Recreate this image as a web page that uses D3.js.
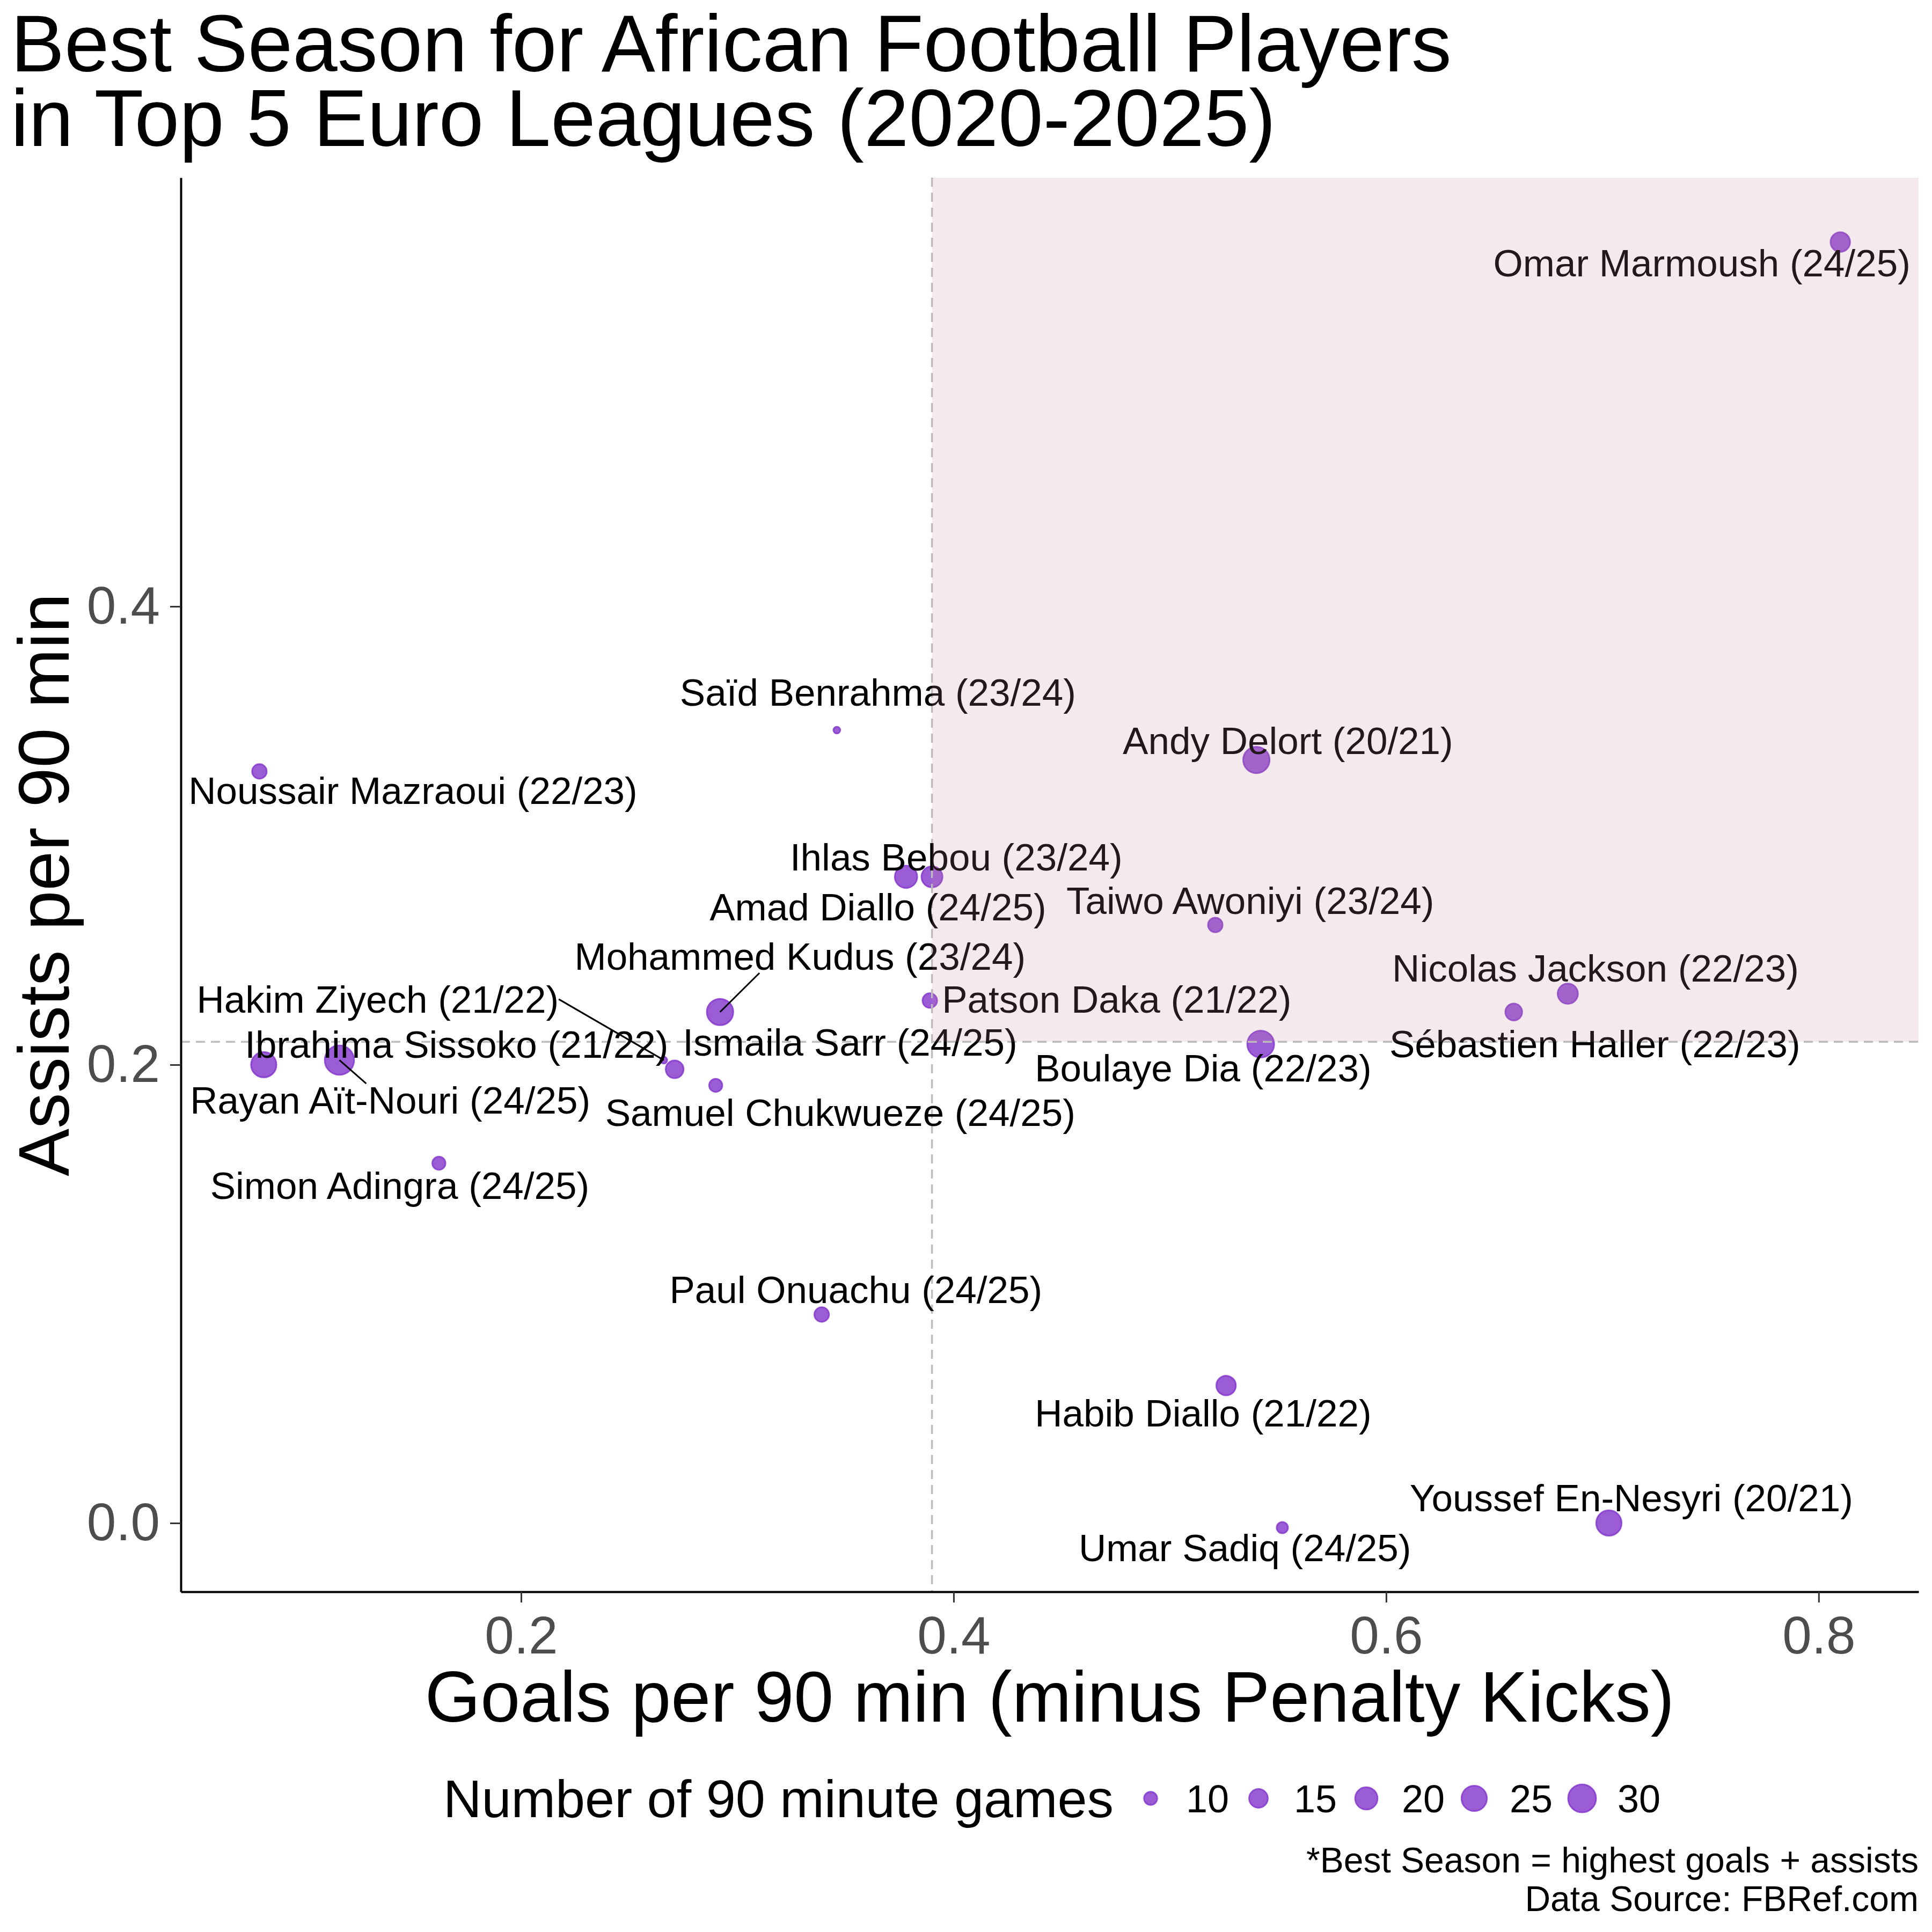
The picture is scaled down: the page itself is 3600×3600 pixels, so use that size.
<!DOCTYPE html>
<html lang="en">
<head>
<meta charset="UTF-8">
<title>Best Season for African Football Players</title>
<script src="https://d3js.org/d3.v7.min.js"></script>
<style>
  body { margin: 0; background: #ffffff; }
  svg text { font-family: 'Liberation Sans', Arial, sans-serif; }
</style>
</head>
<body>
<div id="chart"></div>
<script>
// player + season, in drawing order
const players = [
  "Omar Marmoush (24/25)", "Saïd Benrahma (23/24)", "Noussair Mazraoui (22/23)",
  "Andy Delort (20/21)", "Ihlas Bebou (23/24)", "Amad Diallo (24/25)",
  "Taiwo Awoniyi (23/24)", "Mohammed Kudus (23/24)", "Hakim Ziyech (21/22)",
  "Patson Daka (21/22)", "Nicolas Jackson (22/23)", "Ibrahima Sissoko (21/22)",
  "Ismaila Sarr (24/25)", "Sébastien Haller (22/23)", "Boulaye Dia (22/23)",
  "Rayan Aït-Nouri (24/25)", "Samuel Chukwueze (24/25)", "Simon Adingra (24/25)",
  "Paul Onuachu (24/25)", "Habib Diallo (21/22)", "Youssef En-Nesyri (20/21)",
  "Umar Sadiq (24/25)"
];
const goalsP90 = [0.810, 0.346, 0.079, 0.540, 0.390, 0.378, 0.521, 0.292, 0.266, 0.389, 0.684,
  0.081, 0.271, 0.659, 0.542, 0.116, 0.290, 0.162, 0.339, 0.526, 0.703, 0.552];
const assistsP90 = [0.559, 0.346, 0.328, 0.333, 0.282, 0.282, 0.261, 0.223, 0.202, 0.228, 0.231,
  0.200, 0.198, 0.223, 0.209, 0.202, 0.191, 0.157, 0.091, 0.060, 0.000, -0.002];
const games90 = [16, 8, 11, 27, 18, 20, 11, 27, 8, 11, 17, 25, 14, 13, 28, 33, 10, 10, 11, 16, 25, 9];

// where the repelled labels sit (data units)
const labelX = [0.746, 0.365, 0.150, 0.5546, 0.4012, 0.365, 0.5372, 0.329, 0.1337, 0.4754, 0.6968,
  0.1702, 0.3521, 0.6965, 0.5154, 0.1395, 0.3476, 0.1439, 0.3548, 0.5154, 0.7134, 0.5347];
const labelY = [0.550, 0.3625, 0.3197, 0.3415, 0.2906, 0.2689, 0.2717, 0.2473, 0.2286, 0.2286, 0.2422,
  0.2089, 0.2098, 0.2091, 0.1986, 0.1845, 0.1792, 0.1473, 0.1019, 0.0480, 0.0110, -0.0108];
// labels pulled away from their point get a segment; [fx, fy] = where it leaves the label box
const segments = {
  "Mohammed Kudus (23/24)": [0.41, 1],
  "Hakim Ziyech (21/22)": [1, 0.5],
  "Rayan Aït-Nouri (24/25)": [0.44, 0]
};

const xTicks = [0.2, 0.4, 0.6, 0.8];
const yTicks = [0.0, 0.2, 0.4];
const sizeBreaks = [10, 15, 20, 25, 30];
const goalsLine = 0.39;
const assistsLine = 0.21;

const rows = players.map((p, i) => ({
  name: p, goals: goalsP90[i], assists: assistsP90[i], games: games90[i],
  lx: labelX[i], ly: labelY[i]
}));

const W = 3600, H = 3600;
const panel = { left: 337, right: 3575, top: 331, bottom: 2966 };
const pointColor = "#8234cc";
const labelSize = 71;

const svg = d3.select("#chart").append("svg")
  .attr("width", W).attr("height", H)
  .style("background", "#fff");

const x = d3.scaleLinear().domain([0.04268, 0.8462]).range([panel.left, panel.right]);
const y = d3.scaleLinear().domain([-0.02998, 0.5871]).range([panel.bottom, panel.top]);

// size: area-like mapping, fitted to legend keys
const sizeScale = d3.scaleLinear().domain([0, Math.sqrt(22)]).range([7.8, 27.5]);
const radius = g => sizeScale(Math.sqrt(Math.max(g - 8, 0))) - 1.5;

// title
const title = svg.append("text").attr("font-size", 150).attr("fill", "#000");
title.append("tspan").attr("x", 20).attr("y", 133).text("Best Season for African Football Players");
title.append("tspan").attr("x", 20).attr("y", 272).text("in Top 5 Euro Leagues (2020-2025)");

const plot = svg.append("g");

// points
plot.append("g").selectAll("circle")
  .data(rows)
  .join("circle")
  .attr("cx", d => x(d.goals))
  .attr("cy", d => y(d.assists))
  .attr("r", d => radius(d.games))
  .attr("fill", pointColor).attr("fill-opacity", 0.8)
  .attr("stroke", pointColor).attr("stroke-opacity", 0.8)
  .attr("stroke-width", 3);

// reference lines
plot.append("line")
  .attr("x1", x(goalsLine)).attr("x2", x(goalsLine))
  .attr("y1", panel.top).attr("y2", panel.bottom)
  .attr("stroke", "#bebebe").attr("stroke-width", 3.5).attr("stroke-dasharray", "17,11");
plot.append("line")
  .attr("x1", panel.left).attr("x2", panel.right)
  .attr("y1", y(assistsLine)).attr("y2", y(assistsLine))
  .attr("stroke", "#bebebe").attr("stroke-width", 3.5).attr("stroke-dasharray", "17,11");

// labels
const labels = plot.append("g").selectAll("text")
  .data(rows)
  .join("text")
  .attr("x", d => x(d.lx))
  .attr("y", d => y(d.ly) + 0.355 * labelSize)
  .attr("text-anchor", "middle")
  .attr("font-size", labelSize)
  .attr("fill", "#000")
  .text(d => d.name);

// connector segments from label box to point
labels.each(function (d) {
  const seg = segments[d.name];
  if (!seg) return;
  const b = this.getBBox();
  const top = y(d.ly) - 31, hgt = 62;
  plot.append("line")
    .attr("x1", b.x + seg[0] * b.width).attr("y1", top + seg[1] * hgt)
    .attr("x2", x(d.goals)).attr("y2", y(d.assists))
    .attr("stroke", "#000").attr("stroke-width", 3);
});

// shaded quadrant, drawn on top
plot.append("rect")
  .attr("x", x(goalsLine)).attr("y", panel.top)
  .attr("width", panel.right - x(goalsLine))
  .attr("height", y(assistsLine) - panel.top)
  .attr("fill", "#c28595").attr("fill-opacity", 0.18);

// axes
const xAxis = svg.append("g")
  .attr("transform", `translate(0,${panel.bottom})`)
  .call(d3.axisBottom(x).tickValues(xTicks).tickFormat(d3.format(".1f"))
    .tickSize(20).tickSizeOuter(0).tickPadding(25));
const yAxis = svg.append("g")
  .attr("transform", `translate(${panel.left},0)`)
  .call(d3.axisLeft(y).tickValues(yTicks).tickFormat(d3.format(".1f"))
    .tickSize(20).tickSizeOuter(0).tickPadding(19));

[xAxis, yAxis].forEach(a => {
  a.select(".domain").attr("stroke", "#000").attr("stroke-width", 4);
  a.selectAll(".tick line").attr("stroke", "#333").attr("stroke-width", 3);
  a.selectAll(".tick text").attr("font-size", 98).attr("fill", "#4d4d4d")
    .attr("font-family", "'Liberation Sans', Arial, sans-serif");
});

// axis titles
svg.append("text")
  .attr("x", (panel.left + panel.right) / 2).attr("y", 3208)
  .attr("text-anchor", "middle").attr("font-size", 133).attr("fill", "#000")
  .text("Goals per 90 min (minus Penalty Kicks)");
svg.append("text")
  .attr("transform", `translate(128,${(panel.top + panel.bottom) / 2}) rotate(-90)`)
  .attr("text-anchor", "middle").attr("font-size", 133).attr("fill", "#000")
  .text("Assists per 90 min");

// size legend
const legend = svg.append("g");
legend.append("text")
  .attr("x", 826).attr("y", 3386)
  .attr("font-size", 99).attr("fill", "#000")
  .text("Number of 90 minute games");
const keys = legend.selectAll("g.key")
  .data(sizeBreaks)
  .join("g")
  .attr("class", "key")
  .attr("transform", (d, i) => `translate(${2144 + i * 201},3351)`);
keys.append("circle")
  .attr("r", d => radius(d))
  .attr("fill", pointColor).attr("fill-opacity", 0.8)
  .attr("stroke", pointColor).attr("stroke-opacity", 0.8)
  .attr("stroke-width", 3);
keys.append("text")
  .attr("x", 66).attr("y", 26)
  .attr("font-size", 72).attr("fill", "#000")
  .text(d => d);

// caption
const caption = svg.append("text").attr("text-anchor", "end").attr("font-size", 66).attr("fill", "#000");
caption.append("tspan").attr("x", panel.right).attr("y", 3489).text("*Best Season = highest goals + assists");
caption.append("tspan").attr("x", panel.right).attr("y", 3561).text("Data Source: FBRef.com");
</script>
</body>
</html>
